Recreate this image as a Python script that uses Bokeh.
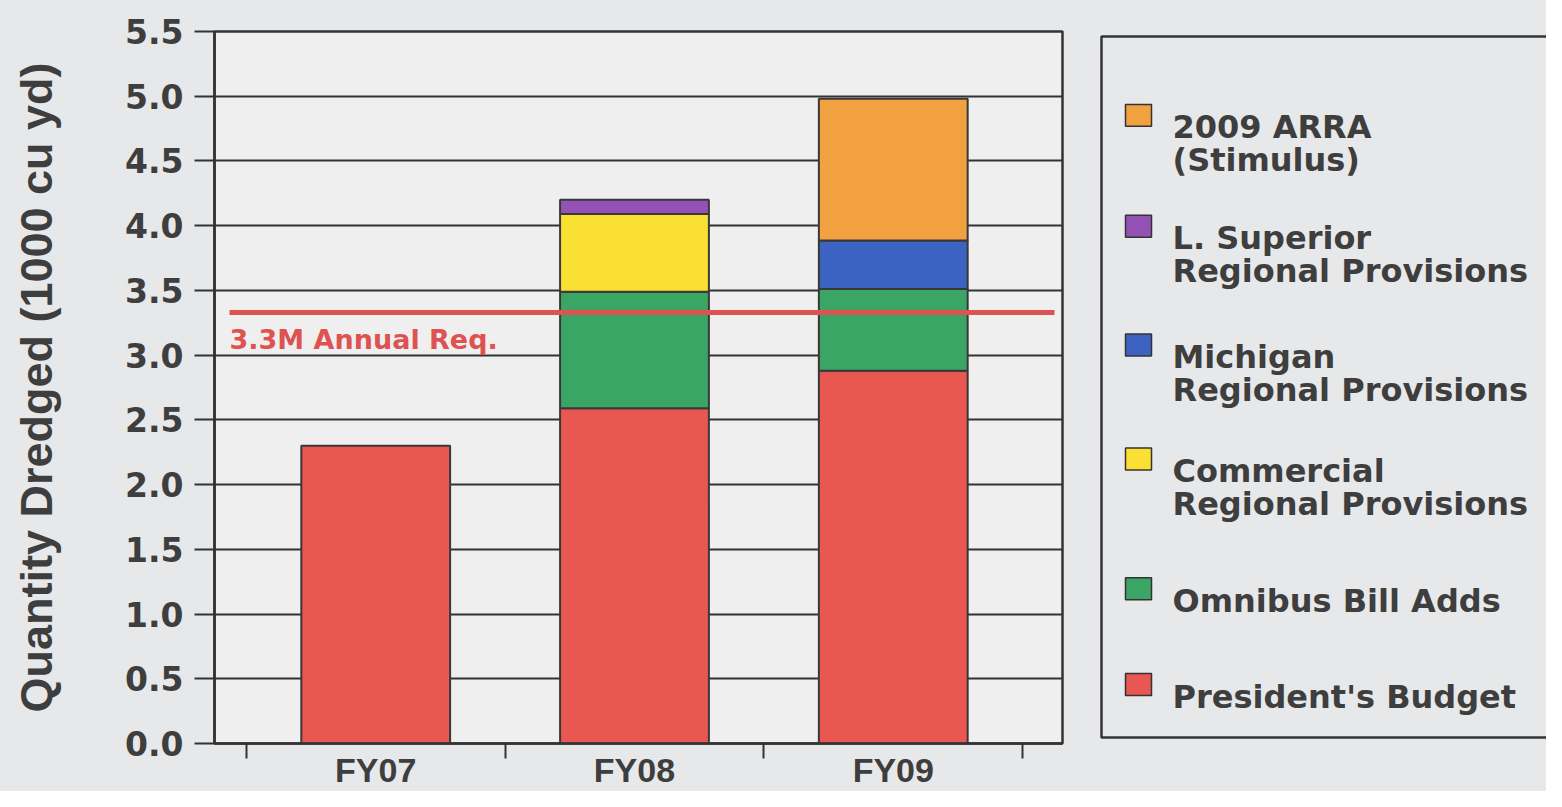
from bokeh.plotting import figure
from bokeh.models import Range1d, FixedTicker, ColumnDataSource, BoxAnnotation, PrintfTickFormatter
from bokeh.layouts import row
from bokeh.core.properties import value
from bokeh.embed import file_html
from bokeh.resources import INLINE

# ---------------- data ----------------
fiscal_years = ["FY07", "FY08", "FY09"]
presidents_budget = [2.30, 2.59, 2.88]
omnibus_bill_adds = [0.0, 0.90, 0.63]
commercial_regional = [0.0, 0.60, 0.0]
michigan_regional = [0.0, 0.0, 0.375]
l_superior_regional = [0.0, 0.11, 0.0]
arra_2009 = [0.0, 0.0, 1.095]
annual_requirement = 3.33
annual_requirement_label = "3.3M Annual Req."
y_ticks = [0.0, 0.5, 1.0, 1.5, 2.0, 2.5, 3.0, 3.5, 4.0, 4.5, 5.0, 5.5]
y_label = "Quantity Dredged (1000 cu yd)"

series_names = [
    "President's Budget",
    "Omnibus Bill Adds",
    "Commercial\nRegional Provisions",
    "Michigan\nRegional Provisions",
    "L. Superior\nRegional Provisions",
    "2009 ARRA\n(Stimulus)",
]
series_values = [presidents_budget, omnibus_bill_adds, commercial_regional,
                 michigan_regional, l_superior_regional, arra_2009]
series_colors = ["#e85752", "#3ba565", "#fbe034", "#3c62c2", "#9452b4", "#f2a140"]

# ---------------- styles ----------------
BG_OUT = "#e7e8ea"
BG_IN = "#efeff0"
INK = "#3e3e3e"
LINE = "#333333"
RED = "#de5352"
FONT = "DejaVu Sans"

W, H = 1095, 791
F_LEFT, F_RIGHT, F_TOP, F_BOTTOM = 214, 1062, 31, 744

# ---------------- main chart ----------------
p = figure(width=W, height=H,
           x_range=Range1d(-0.123, 3.154), y_range=Range1d(0, 5.5),
           output_backend="svg", toolbar_location=None,
           min_border_left=F_LEFT, min_border_right=W - F_RIGHT,
           min_border_top=F_TOP, min_border_bottom=H - F_BOTTOM,
           background_fill_color=BG_IN, border_fill_color=BG_OUT)

xs, bottoms, tops, colors = [], [], [], []
cum = [0.0] * len(fiscal_years)
for vals, col in zip(series_values, series_colors):
    for i, v in enumerate(vals):
        if v > 0:
            xs.append(i + 0.5)
            bottoms.append(cum[i])
            tops.append(cum[i] + v)
            colors.append(col)
        cum[i] += v
src = ColumnDataSource(dict(x=xs, bottom=bottoms, top=tops, color=colors))
p.vbar(x="x", width=0.575, bottom="bottom", top="top", fill_color="color",
       line_color="#383838", line_width=2, source=src)

x0 = p.x_range.start + 0.058
x1 = p.x_range.end - 0.031
p.line(x=[x0, x1], y=[annual_requirement, annual_requirement],
       line_color=RED, line_width=5)
p.text(x=[x0], y=[annual_requirement], text=[annual_requirement_label],
       y_offset=27, text_baseline="alphabetic", text_align="left",
       text_font=value(FONT), text_font_style="bold",
       text_font_size="27px", text_color=RED)

# x axis
p.xaxis.ticker = FixedTicker(ticks=[i + 0.5 for i in range(len(fiscal_years))],
                             minor_ticks=list(range(len(fiscal_years) + 1)))
p.xaxis.major_label_overrides = {i + 0.5: fy for i, fy in enumerate(fiscal_years)}
p.xaxis.major_tick_out = 0
p.xaxis.major_tick_in = 0
p.xaxis.minor_tick_out = 15
p.xaxis.minor_tick_in = 0
p.xaxis.minor_tick_line_color = LINE
p.xaxis.minor_tick_line_width = 2
p.xaxis.axis_line_color = LINE
p.xaxis.axis_line_width = 2.5
p.xaxis.major_label_standoff = -8
p.xaxis.major_label_text_font = "Liberation Sans"
p.xaxis.major_label_text_font_style = "bold"
p.xaxis.major_label_text_font_size = "34px"
p.xaxis.major_label_text_color = INK
p.xgrid.visible = False

# y axis
p.yaxis.ticker = FixedTicker(ticks=y_ticks)
p.yaxis.formatter = PrintfTickFormatter(format="%.1f")
p.yaxis.major_tick_out = 20
p.yaxis.major_tick_in = 0
p.yaxis.major_tick_line_color = LINE
p.yaxis.major_tick_line_width = 2
p.yaxis.minor_tick_line_color = None
p.yaxis.axis_line_color = LINE
p.yaxis.axis_line_width = 2.5
p.yaxis.major_label_standoff = 11
p.yaxis.major_label_text_font = FONT
p.yaxis.major_label_text_font_style = "bold"
p.yaxis.major_label_text_font_size = "33px"
p.yaxis.major_label_text_color = INK
p.yaxis.axis_label = y_label
p.yaxis.axis_label_standoff = 60
p.yaxis.axis_label_text_font = "Liberation Sans"
p.yaxis.axis_label_text_font_style = "bold"
p.yaxis.axis_label_text_font_size = "45px"
p.yaxis.axis_label_text_color = INK
p.ygrid.ticker = FixedTicker(ticks=y_ticks)
p.ygrid.grid_line_color = LINE
p.ygrid.grid_line_width = 2

p.outline_line_color = LINE
p.outline_line_width = 2.5

# ---------------- legend panel ----------------
# The row aligns this panel's frame with the chart frame, so its y range is
# expressed in the chart's pixel rows (top=F_TOP, bottom=F_BOTTOM).
LW = 451
leg = figure(width=LW, height=H, x_range=Range1d(0, LW), y_range=Range1d(F_BOTTOM, F_TOP),
             output_backend="svg", toolbar_location=None,
             x_axis_type=None, y_axis_type=None,
             min_border_left=0, min_border_right=0,
             min_border_top=F_TOP, min_border_bottom=H - F_BOTTOM,
             background_fill_color=BG_OUT, border_fill_color=BG_OUT)
leg.outline_line_color = None
leg.xgrid.visible = False
leg.ygrid.visible = False
leg.add_layout(BoxAnnotation(left=6, right=LW + 20, top=36, bottom=738,
                             fill_alpha=0, line_color=LINE, line_alpha=1.0,
                             line_width=2.5))

item_centers = [115, 226, 345, 459, 589, 685]
legend_order = list(range(len(series_names)))[::-1]
sq_x, sq_y, sq_c = [], [], []
tx, ty, tt = [], [], []
for k, idx in enumerate(legend_order):
    cy = item_centers[k]
    sq_x.append(43)
    sq_y.append(cy)
    sq_c.append(series_colors[idx])
    for j, line in enumerate(series_names[idx].split("\n")):
        tx.append(77)
        ty.append(cy + 12 + 33 * j)
        tt.append(line)
leg.rect(x=sq_x, y=sq_y, width=26, height=22, fill_color=sq_c,
         line_color=LINE, line_width=1.5)
leg.text(x=tx, y=ty, text=tt, text_baseline="alphabetic", text_align="left",
         text_font=value(FONT), text_font_style="bold",
         text_font_size="32px", text_color=INK)

layout = row(p, leg, styles={"background-color": BG_OUT})
open("out.html", "w").write(file_html(layout, INLINE))
